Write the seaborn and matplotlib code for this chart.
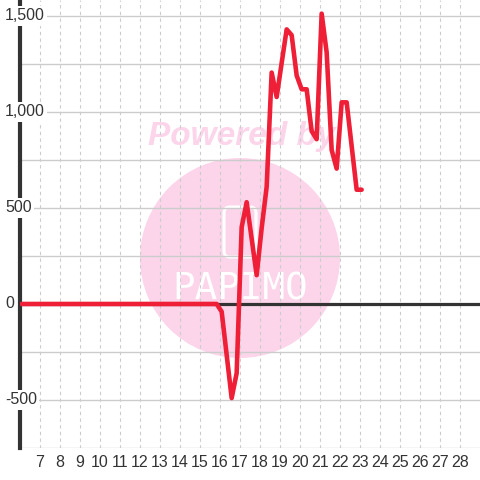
import matplotlib
matplotlib.use('Agg')
import matplotlib.pyplot as plt
import matplotlib.transforms as mtransforms
from matplotlib.patches import Ellipse, FancyBboxPatch
import seaborn as sns
import pandas as pd

# day of month (6-hourly samples) and values
days = [6.083, 15.833, 16.083, 16.333, 16.583, 16.833, 17.083, 17.333, 17.583,
        17.833, 18.083, 18.333, 18.583, 18.833, 19.083, 19.333, 19.583, 19.833,
        20.083, 20.333, 20.583, 20.833, 21.083, 21.333, 21.583, 21.833, 22.083,
        22.333, 22.583, 22.833, 23.083]
values = [0, 0, -40, -265, -490, -360, 400, 530, 340,
          150, 395, 610, 1205, 1078, 1255, 1430, 1400, 1190,
          1118, 1118, 900, 858, 1512, 1310, 802, 705, 1050,
          1050, 822, 595, 595]

x_ticks = list(range(7, 29))
y_grid = [-750, -500, -250, 0, 250, 500, 750, 1000, 1250, 1500]
y_labels = [-500, 0, 500, 1000, 1500]

RED = "#ee1f36"
PINK = "#fcd5ea"
GRID = "#cccccc"
TEXT = "#333333"

sns.set_style("white")
plt.rcParams['font.family'] = ['Liberation Sans', 'DejaVu Sans']

df = pd.DataFrame({"day": days, "value": values})

fig = plt.figure(figsize=(4.8, 4.8), dpi=100)
ax = fig.add_axes([20 / 480, 32 / 480, 460 / 480, 448 / 480])
ax.set_facecolor("none")

# watermark behind the axes
fig.patches.append(Ellipse((240 / 480, (480 - 258) / 480), 200 / 480, 200 / 480,
                           transform=fig.transFigure, fc=PINK, ec="none", zorder=-3))
fig.patches.append(FancyBboxPatch((224 / 480, (480 - 257) / 480), 32 / 480, 50 / 480,
                                  boxstyle="round,pad=0,rounding_size=0.012",
                                  transform=fig.transFigure, fc="none", ec="white",
                                  lw=2.2, zorder=-2))
fig.text(240 / 480, (480 - 290) / 480, "PAPIMO", color="white", fontsize=27,
         family="DejaVu Sans Mono", ha="center", va="center", zorder=-2)
fig.text(148 / 480, (480 - 145) / 480, "Powered by", color=PINK, fontsize=24,
         fontweight="bold", fontstyle="italic", family="Liberation Sans",
         ha="left", va="baseline", zorder=-2)

# grid
for v in y_grid:
    ax.axhline(v, color=GRID, lw=1.0, zorder=1)
for t in x_ticks:
    ax.axvline(t, color=GRID, lw=0.8, ls=(0, (3, 3)), zorder=1)
ax.axhline(0, color="#333333", lw=2.3, zorder=2)

sns.lineplot(data=df, x="day", y="value", ax=ax, color=RED, lw=3.3, zorder=4)

ax.set_xlim(6, 29)
ax.set_ylim(-750, 1583)
ax.set_xticks(x_ticks)
ax.set_xticklabels([str(t) for t in x_ticks])
ax.set_yticks([])
ax.tick_params(axis="x", length=0, pad=5, labelsize=11.5, colors=TEXT)
ax.set_xlabel("")
ax.set_ylabel("")

for s in ["top", "right", "bottom"]:
    ax.spines[s].set_visible(False)
ax.spines["left"].set_color("#333333")
ax.spines["left"].set_linewidth(3)
ax.spines["left"].set_zorder(3)

trans = mtransforms.blended_transform_factory(fig.transFigure, ax.transData)
for v in y_labels:
    ax.text(5 / 480, v, f"{v:,}", transform=trans, ha="left", va="center",
            fontsize=11.5, color=TEXT, clip_on=False, zorder=6,
            bbox=dict(fc="white", ec="none", pad=1.5))

fig.savefig("out.png", dpi=100)
